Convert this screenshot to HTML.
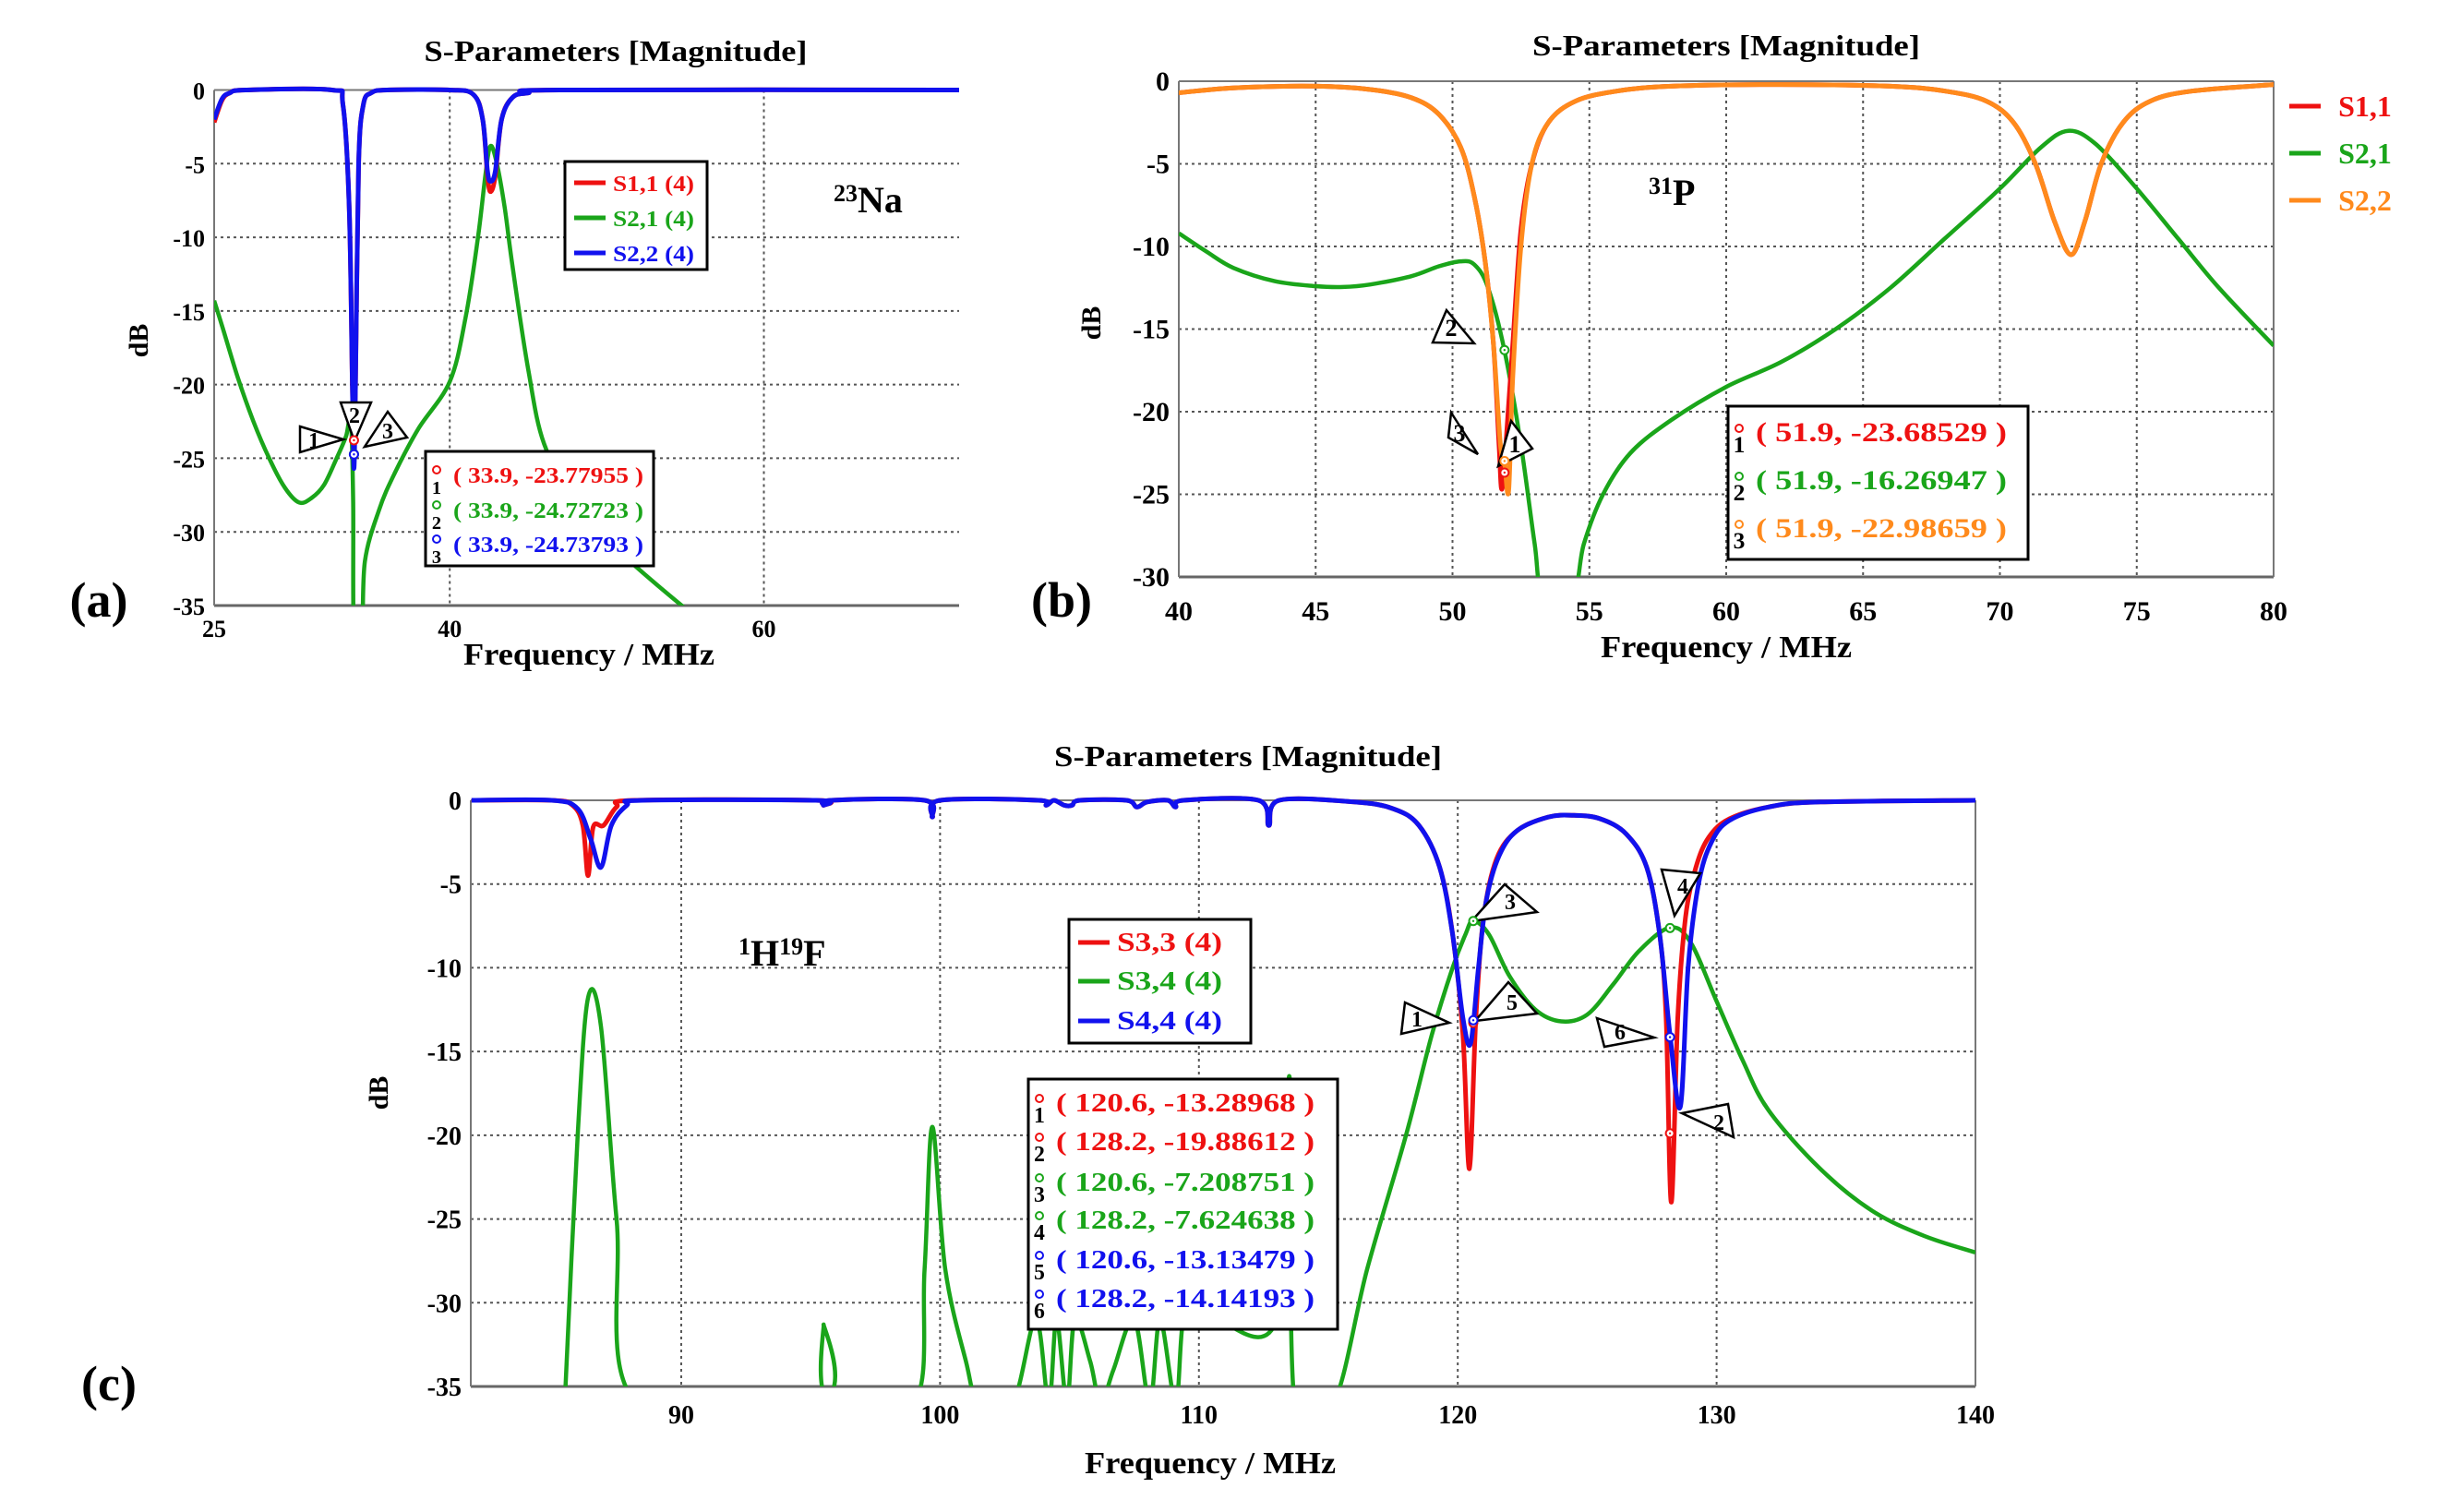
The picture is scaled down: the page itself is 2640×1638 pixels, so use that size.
<!DOCTYPE html>
<html><head><meta charset="utf-8"><style>
html,body{margin:0;padding:0;background:#fff;}
svg{display:block;font-family:"Liberation Serif",serif;font-weight:bold;}
</style></head><body>
<svg id="fig" width="2640" height="1638" viewBox="0 0 2640 1638" xmlns="http://www.w3.org/2000/svg">
<rect width="2640" height="1638" fill="#fff"/>
<defs>
<clipPath id="clipA"><rect x="232" y="90" width="807" height="566"/></clipPath>
<clipPath id="clipB"><rect x="1277" y="80" width="1186" height="545"/></clipPath>
<clipPath id="clipC"><rect x="510" y="860" width="1630" height="642"/></clipPath>
</defs>
<g id="gA"></g>
<g id="gB"></g>
<g id="gC"></g>
</svg>
<script>
// ---------- Panel (a) data: 23Na ----------
const aS11F=[25,25.5,26,27,32.5,33.2,33.6,33.8,33.9,34.0,34.2,34.5,35,36,40,41.5,42.1,42.4,42.6,42.9,43.3,44,45,47,72.5];
const aS11V=[-2.2,-0.7,-0.2,0,0,-1,-8,-20,-24,-20,-5,-1,-0.2,0,0,-0.3,-2,-5.8,-6.9,-5.8,-2,-0.5,-0.2,0,0];
const aS22F=[25,25.5,26,27,32.5,33.2,33.6,33.8,33.9,34.0,34.2,34.5,35,36,40,41.5,42.1,42.4,42.6,42.9,43.3,44,45,47,72.5];
const aS22V=[-2,-0.6,-0.2,0,0,-1,-8,-20,-25.7,-20,-5,-1,-0.2,0,0,-0.3,-2,-5.5,-6.2,-5.5,-2,-0.5,-0.2,0,0];
const aS21F=[25,25.5,26.5,27.5,28.5,29.5,30.4,31.2,32,32.8,33.4,33.7,33.85,33.9,34.4,34.6,35.5,36.5,38,40,41,41.8,42.3,42.6,43,43.5,44,45,46,48,50,52,55,56];
const aS21V=[-14.3,-16,-19.5,-22.5,-25,-27,-28,-27.7,-26.8,-25,-23.5,-22.3,-28,-37,-37,-32,-28.5,-26,-23,-19.8,-15.5,-10,-5.5,-3.8,-5,-8,-12,-19,-24,-28,-30.5,-32.5,-35.2,-36];
const aXTicks=[25,40,60];
const aYTicks=[0,-5,-10,-15,-20,-25,-30,-35];
const aMarkF=[33.9,33.9,33.9];
const aMarkV=[-23.77955,-24.72723,-24.73793];
const aMarkLbl=["( 33.9, -23.77955 )","( 33.9, -24.72723 )","( 33.9, -24.73793 )"];

// ---------- Panel (b) data: 31P ----------
const bS22F=[40,42,45,47,48.5,49.5,50.3,50.8,51.2,51.5,51.75,51.9,52.05,52.2,52.5,52.9,53.5,54.5,56,58,62,66,68,69.5,70.5,71.3,72,72.6,73.1,73.7,74.5,75.5,77,80];
const bS22V=[-0.7,-0.4,-0.3,-0.5,-1,-2,-4,-7,-11,-16,-22,-23,-24.8,-18,-10,-5,-2.5,-1.2,-0.6,-0.3,-0.2,-0.3,-0.6,-1.2,-2.5,-5,-8.5,-10.5,-8.5,-5,-2.5,-1.2,-0.6,-0.2];
const bS11F=[40,42,45,47,48.5,49.5,50.3,50.8,51.2,51.5,51.7,51.8,51.95,52.2,52.5,52.9,53.5,54.5,56,58,62,66,68,69.5,70.5,71.3,72,72.6,73.1,73.7,74.5,75.5,77,80];
const bS11V=[-0.7,-0.4,-0.3,-0.5,-1,-2,-4,-7,-11,-16,-22,-24.7,-22,-16,-9,-5,-2.5,-1.2,-0.6,-0.3,-0.2,-0.3,-0.6,-1.2,-2.5,-5,-8.5,-10.5,-8.5,-5,-2.5,-1.2,-0.6,-0.2];
const bS21F=[40,41,42,43.5,45,46,47,48.5,49.5,50.3,50.8,51.3,51.9,52.5,53,53.3,54.4,54.8,55.5,56.5,58,60,62,64,66,68,70,71.5,72.5,73.5,75,76.5,78,80];
const bS21V=[-9.2,-10.3,-11.3,-12.1,-12.4,-12.45,-12.3,-11.8,-11.2,-10.9,-11.1,-12.5,-16.3,-22,-28,-31,-31,-28,-25,-22.5,-20.5,-18.5,-17,-15,-12.5,-9.5,-6.5,-4,-3,-3.8,-6.5,-9.5,-12.5,-16];
const bXTicks=[40,45,50,55,60,65,70,75,80];
const bYTicks=[0,-5,-10,-15,-20,-25,-30];
const bMarkF=[51.9,51.9,51.9];
const bMarkV=[-23.68529,-16.26947,-22.98659];
const bMarkLbl=["( 51.9, -23.68529 )","( 51.9, -16.26947 )","( 51.9, -22.98659 )"];

// ---------- Panel (c) data: 1H19F ----------
const cS33F=[81.9,85,85.8,86.2,86.4,86.6,87.0,87.5,88.2,95.2,95.5,95.8,99.4,99.7,100,103.8,104.1,104.4,104.8,105.1,105.4,107.2,107.6,108,108.8,109.1,109.4,112.3,112.7,113.1,116,117.5,118.5,119.3,119.8,120.2,120.45,120.7,121,121.5,122.3,123.5,124.5,125.5,126.5,127.3,127.8,128.05,128.25,128.5,128.8,129.2,129.7,130.5,132,134,140];
const cS33V=[0,0,-0.3,-1.5,-4.5,-1.6,-1.5,-0.4,0,0,-0.3,0,0,-1,0,0,-0.3,0,-0.3,-0.3,0,0,-0.4,-0.1,0,-0.4,0,0,-1.5,0,-0.1,-0.5,-1.5,-4,-8,-14,-22,-13,-7,-3.5,-1.8,-1.0,-0.9,-1.1,-2,-4,-8,-13,-24,-13,-7,-4,-2.2,-1.1,-0.4,-0.1,0];
const cS44F=[81.9,85,86,86.5,86.9,87.3,87.9,88.5,95.2,95.5,95.8,99.4,99.7,100,103.8,104.1,104.4,104.8,105.1,105.4,107.2,107.6,108,108.8,109.1,109.4,112.3,112.7,113.1,116,117.5,118.5,119.3,119.8,120.2,120.5,120.8,121.1,121.6,122.3,123.5,124.5,125.5,126.5,127.3,127.8,128.2,128.6,128.9,129.3,129.8,130.5,132,134,140];
const cS44V=[0,0,-0.5,-2.3,-4,-1.5,-0.3,0,0,-0.3,0,0,-1,0,0,-0.3,0,-0.3,-0.3,0,0,-0.4,-0.1,0,-0.4,0,0,-1.5,0,-0.1,-0.5,-1.5,-4,-8,-13,-14.5,-10,-6,-3.3,-1.8,-1.0,-0.9,-1.1,-2,-4,-8,-14,-18.3,-10,-5,-2.5,-1.2,-0.4,-0.1,0];
const cS34F=[85.5,86.0,86.4,86.9,87.5,88.3,95.4,95.5,95.7,99.0,99.4,99.7,100.2,101,101.5,102.8,103.7,104.2,104.5,104.9,105.2,105.8,106.2,106.7,107.5,108.1,108.5,109.1,109.4,110,110.6,113.0,113.5,113.7,115.2,116.5,118,119,119.8,120.3,120.6,121.2,122,123,124,125,126,127,128.2,129,130,131,132,134,136,138,140];
const cS34V=[-36,-20,-11.8,-13.5,-25,-36,-36,-31.3,-36,-36,-28,-19.5,-28,-33.5,-36,-36,-31,-36,-31,-36,-31,-33.5,-36,-34,-31,-36,-31,-36,-31,-31.5,-31,-31,-16.5,-36,-36,-28,-20,-14,-10,-8,-7.2,-8,-10.5,-12.5,-13.2,-12.8,-11,-9,-7.6,-8.5,-12,-15.5,-18.5,-22,-24.5,-26,-27];
const cXTicks=[90,100,110,120,130,140];
const cYTicks=[0,-5,-10,-15,-20,-25,-30,-35];
const cMarkF=[120.6,128.2,120.6,128.2,120.6,128.2];
const cMarkV=[-13.28968,-19.88612,-7.208751,-7.624638,-13.13479,-14.14193];
const cMarkLbl=["( 120.6, -13.28968 )","( 128.2, -19.88612 )","( 120.6, -7.208751 )","( 128.2, -7.624638 )","( 120.6, -13.13479 )","( 128.2, -14.14193 )"];

const NS="http://www.w3.org/2000/svg";
function mk(parent,tag,attrs,txt){const e=document.createElementNS(NS,tag);for(const k in attrs)e.setAttribute(k,attrs[k]);if(txt!==undefined)e.textContent=txt;parent.appendChild(e);return e;}
function scale(d0,d1,p0,p1){return v=>p0+(v-d0)*(p1-p0)/(d1-d0);}

function axes(g,sx,sy,cfg){
  cfg.yt.forEach(v=>{
    if(v===0||v===cfg.ymin)return;
    const l=mk(g,'line',{x1:cfg.px0,x2:cfg.px1,y1:sy(v),y2:sy(v),stroke:'#555','stroke-width':2,'stroke-dasharray':'3,4'});
    
    
  });
  cfg.xt.forEach(v=>{
    if(v===cfg.xmin||v===cfg.xmax)return;
    const l=mk(g,'line',{x1:sx(v),x2:sx(v),y1:sy(0),y2:sy(cfg.ymin),stroke:'#555','stroke-width':2,'stroke-dasharray':'3,4'});
    
    
  });
  mk(g,'line',{x1:cfg.px0,x2:cfg.px1,y1:sy(0),y2:sy(0),stroke:'#777','stroke-width':2});
  mk(g,'line',{x1:cfg.px0,x2:cfg.px1,y1:sy(cfg.ymin),y2:sy(cfg.ymin),stroke:'#666','stroke-width':3});
  mk(g,'line',{x1:cfg.px0,x2:cfg.px0,y1:sy(0),y2:sy(cfg.ymin),stroke:'#777','stroke-width':2});
  if(cfg.rightEdge)mk(g,'line',{x1:cfg.px1,x2:cfg.px1,y1:sy(0),y2:sy(cfg.ymin),stroke:'#777','stroke-width':2});
  cfg.yt.forEach(v=>{
    const t=mk(g,'text',{x:cfg.px0-10,y:sy(v)+10,'text-anchor':'end','font-size':cfg.fs},String(v));
    
    
  });
  cfg.xt.forEach(v=>{
    const t=mk(g,'text',{x:sx(v),y:cfg.xly,'text-anchor':'middle','font-size':cfg.fs},String(v));
    
    
  });
}
function curve(g,sx,sy,F,V,color,clip,name,w){
  const P=F.map((f,i)=>[sx(f),sy(V[i])]);
  let d='M'+P[0][0].toFixed(1)+','+P[0][1].toFixed(1);
  for(let i=0;i<P.length-1;i++){
    const p0=P[Math.max(i-1,0)],p1=P[i],p2=P[i+1],p3=P[Math.min(i+2,P.length-1)];
    const c1x=p1[0]+(p2[0]-p0[0])/6,c1y=p1[1]+(p2[1]-p0[1])/6;
    const c2x=p2[0]-(p3[0]-p1[0])/6,c2y=p2[1]-(p3[1]-p1[1])/6;
    d+=' C'+c1x.toFixed(1)+','+c1y.toFixed(1)+' '+c2x.toFixed(1)+','+c2y.toFixed(1)+' '+p2[0].toFixed(1)+','+p2[1].toFixed(1);
  }
  const p=mk(g,'path',{d:d,fill:'none',stroke:color,'stroke-width':w||5,'stroke-linejoin':'round','clip-path':'url(#'+clip+')'});
  
  
}
function marker(g,x,y,color){
  const c=mk(g,'circle',{cx:x,cy:y,r:4.5,fill:'#fff',stroke:color,'stroke-width':2});
  
  
  mk(g,'circle',{cx:x,cy:y,r:1.2,fill:color});
}
function tri(g,pts,lx,ly,num,fs){
  const p=mk(g,'polygon',{points:pts,fill:'#fff',stroke:'#000','stroke-width':2.5});
  
  
  mk(g,'text',{x:lx,y:ly,'font-size':fs||26,'text-anchor':'middle'},num);
}
function title(g,x,y,w){
  const t=mk(g,'text',{x:x,y:y,'text-anchor':'middle','font-size':32,textLength:w,lengthAdjust:'spacingAndGlyphs'},'S-Parameters [Magnitude]');
  
  
}
function xtitle(g,x,y,w){
  const t=mk(g,'text',{x:x,y:y,'text-anchor':'middle','font-size':34,textLength:w,lengthAdjust:'spacingAndGlyphs'},'Frequency / MHz');
  
  
}
function ytitle(g,x,y){
  const t=mk(g,'text',{x:x,y:y,'text-anchor':'middle','font-size':30,transform:'rotate(-90 '+x+' '+y+')'},'dB');
  
  
}
function plabel(g,x,y,s){
  const t=mk(g,'text',{x:x,y:y,'text-anchor':'middle','font-size':54},s);
  
  
}
function legendBox(g,x,y,w,h,names,colors,fs,tl,rowY){
  const r=mk(g,'rect',{x:x,y:y,width:w,height:h,fill:'#fff',stroke:'#000','stroke-width':3});
  
  
  names.forEach((n,i)=>{
    const yy=rowY[i];
    mk(g,'line',{x1:x+10,x2:x+44,y1:yy,y2:yy,stroke:colors[i],'stroke-width':5});
    const t=mk(g,'text',{x:x+52,y:yy+9,'font-size':fs,fill:colors[i],textLength:tl,lengthAdjust:'spacingAndGlyphs'},n);
    
    
  });
}
function markBox(g,x,y,w,h,labels,colors,fs,tl,rowY){
  const r=mk(g,'rect',{x:x,y:y,width:w,height:h,fill:'#fff',stroke:'#000','stroke-width':3});
  
  
  labels.forEach((s,i)=>{
    const yy=rowY[i];
    mk(g,'circle',{cx:x+12,cy:yy-14,r:4,fill:'#fff',stroke:colors[i],'stroke-width':2});
    mk(g,'text',{x:x+12,y:yy+12,'font-size':fs*0.85,'text-anchor':'middle'},String(i+1));
    const t=mk(g,'text',{x:x+30,y:yy,'font-size':fs,fill:colors[i],textLength:tl,lengthAdjust:'spacingAndGlyphs'},s);
    
    
  });
}

// ===== Panel A =====
(function(){
  const g=document.getElementById('gA');
  const sx=scale(25,72.9,232,1047), sy=scale(0,-35,97.5,656);
  axes(g,sx,sy,{px0:232,px1:1039,xmin:25,xmax:72.9,ymin:-35,xt:aXTicks,yt:aYTicks,fs:26,xly:690,rightEdge:false});
  curve(g,sx,sy,aS21F,aS21V,'#1aa51a','clipA','s21-curve',4.5);
  curve(g,sx,sy,aS11F,aS11V,'#ee1111','clipA','s11-curve',5);
  curve(g,sx,sy,aS22F,aS22V,'#1111ee','clipA','s22-curve',5);
  tri(g,'325,462 372,476 325,490',340,485,'1',24);
  tri(g,'369,436 402,436 384,478',384,458,'2',24);
  tri(g,'395,484 441,474 420,446',420,475,'3',24);
  marker(g,sx(aMarkF[0]),sy(aMarkV[0]),'#ee1111');
  marker(g,sx(aMarkF[1]),sy(aMarkV[1]),'#1aa51a');
  marker(g,sx(aMarkF[2]),sy(aMarkV[2]),'#1111ee');
  legendBox(g,612,175,154,117,['S1,1 (4)','S2,1 (4)','S2,2 (4)'],['#ee1111','#1aa51a','#1111ee'],24,88,[198,236,274]);
  markBox(g,461,489,247,124,aMarkLbl,['#ee1111','#1aa51a','#1111ee'],24,206,[523,561,598]);
  title(g,667,66,415);
  xtitle(g,638,720,272);
  ytitle(g,160,369);
  plabel(g,107,668,'(a)');
  const t=mk(g,'text',{x:903,y:230,'font-size':40},'');
  mk(t,'tspan',{'font-size':26,dy:-12},'23');
  mk(t,'tspan',{dy:12},'Na');
  
  
})();

// ===== Panel B =====
(function(){
  const g=document.getElementById('gB');
  const sx=scale(40,80,1277,2463), sy=scale(0,-30,88,625);
  axes(g,sx,sy,{px0:1277,px1:2463,xmin:40,xmax:80,ymin:-30,xt:bXTicks,yt:bYTicks,fs:30,xly:672,rightEdge:true});
  curve(g,sx,sy,bS21F,bS21V,'#1aa51a','clipB','s21-curve',4.5);
  curve(g,sx,sy,bS11F,bS11V,'#ee1111','clipB','s11-curve',5);
  curve(g,sx,sy,bS22F,bS22V,'#ff8a1c','clipB','s22-curve',5);
  tri(g,'1567,336 1597,372 1552,371',1572,364,'2',26);
  tri(g,'1572,447 1601,492 1569,474',1581,478,'3',26);
  tri(g,'1637,456 1660,486 1623,505',1641,490,'1',26);
  marker(g,sx(bMarkF[0]),sy(bMarkV[0]),'#ee1111');
  marker(g,sx(bMarkF[1]),sy(bMarkV[1]),'#1aa51a');
  marker(g,sx(bMarkF[2]),sy(bMarkV[2]),'#ff8a1c');
  markBox(g,1872,440,325,166,bMarkLbl,['#ee1111','#1aa51a','#ff8a1c'],30,272,[478,530,582]);
  const ln=['S1,1','S2,1','S2,2'], lc=['#ee1111','#1aa51a','#ff8a1c'], ly=[115,166,217];
  ln.forEach((n,i)=>{
    mk(g,'line',{x1:2480,x2:2514,y1:ly[i],y2:ly[i],stroke:lc[i],'stroke-width':5});
    const t=mk(g,'text',{x:2562,y:ly[i]+11,'font-size':32,fill:lc[i],'text-anchor':'middle'},n);
    
    
  });
  title(g,1870,60,420);
  xtitle(g,1870,712,272);
  ytitle(g,1192,350);
  plabel(g,1150,668,'(b)');
  const t=mk(g,'text',{x:1786,y:222,'font-size':40},'');
  mk(t,'tspan',{'font-size':26,dy:-12},'31');
  mk(t,'tspan',{dy:12},'P');
  
  
})();

// ===== Panel C =====
(function(){
  const g=document.getElementById('gC');
  const sx=scale(81.87,140,510,2140), sy=scale(0,-35,867,1502);
  axes(g,sx,sy,{px0:510,px1:2140,xmin:81.87,xmax:140,ymin:-35,xt:cXTicks,yt:cYTicks,fs:28,xly:1542,rightEdge:true});
  curve(g,sx,sy,cS34F,cS34V,'#1aa51a','clipC','s34-curve',4.5);
  curve(g,sx,sy,cS33F,cS33V,'#ee1111','clipC','s33-curve',5);
  curve(g,sx,sy,cS44F,cS44V,'#1111ee','clipC','s44-curve',5);
  tri(g,'1522,1086 1570,1108 1518,1120',1535,1112,'1',24);
  tri(g,'1598,1106 1634,1064 1665,1098',1638,1094,'5',24);
  tri(g,'1594,998 1630,958 1665,988',1636,985,'3',24);
  tri(g,'1730,1103 1792,1124 1738,1134',1755,1126,'6',24);
  tri(g,'1800,942 1842,946 1814,992',1823,968,'4',24);
  tri(g,'1822,1206 1878,1232 1872,1196',1862,1224,'2',24);
  for(let i=0;i<6;i++){marker(g,sx(cMarkF[i]),sy(cMarkV[i]),['#ee1111','#ee1111','#1aa51a','#1aa51a','#1111ee','#1111ee'][i]);}
  legendBox(g,1158,996,197,134,['S3,3 (4)','S3,4 (4)','S4,4 (4)'],['#ee1111','#1aa51a','#1111ee'],28,114,[1021,1063,1106]);
  markBox(g,1114,1169,335,271,cMarkLbl,['#ee1111','#ee1111','#1aa51a','#1aa51a','#1111ee','#1111ee'],28,280,[1204,1246,1290,1331,1374,1416]);
  title(g,1352,830,420);
  xtitle(g,1311,1596,272);
  ytitle(g,420,1184);
  plabel(g,118,1517,'(c)');
  const t=mk(g,'text',{x:800,y:1046,'font-size':40},'');
  mk(t,'tspan',{'font-size':26,dy:-12},'1');
  mk(t,'tspan',{dy:12},'H');
  mk(t,'tspan',{'font-size':26,dy:-12},'19');
  mk(t,'tspan',{dy:12},'F');
  
  
})();
</script>
</body></html>
